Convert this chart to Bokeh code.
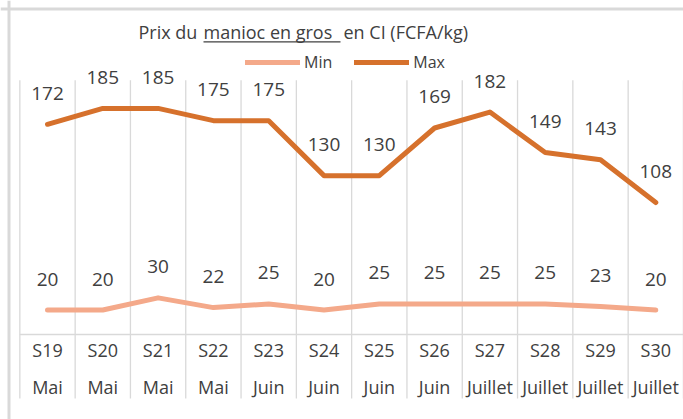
import numpy as np
from bokeh.plotting import figure
from bokeh.models import (Range1d, Label, Legend, LegendItem, BoxAnnotation,
                          Span, ColumnDataSource)
from bokeh.core.properties import value
from bokeh.embed import file_html
from bokeh.resources import INLINE

# ---------------- data ----------------
weeks = ["S19", "S20", "S21", "S22", "S23", "S24", "S25", "S26", "S27", "S28", "S29", "S30"]
months = ["Mai", "Mai", "Mai", "Mai", "Juin", "Juin", "Juin", "Juin",
          "Juillet", "Juillet", "Juillet", "Juillet"]
price_min = [20, 20, 30, 22, 25, 20, 25, 25, 25, 25, 23, 20]
price_max = [172, 185, 185, 175, 175, 130, 130, 169, 182, 149, 143, 108]

# ---------------- style ----------------
FONT = "Open Sans"
TXT = "#404040"
GRID = "#d9d9d9"
C_MIN = "#f4a98a"
C_MAX = "#d6712c"

W, H = 683, 419
PX_X = 55.3    # pixels per category
PX_Y = 1.222   # pixels per FCFA
X0 = -47 / PX_X
X1 = X0 + W / PX_X
Y1 = 334 / PX_Y
Y0 = Y1 - H / PX_Y
GRID_TOP, GRID_BOTTOM = 208, -52.4

idx = list(range(len(weeks)))

p = figure(width=W, height=H, output_backend="svg", toolbar_location=None,
           x_range=Range1d(X0, X1), y_range=Range1d(Y0, Y1),
           min_border=0, tools="")
p.xaxis.visible = False
p.yaxis.visible = False
p.xgrid.visible = False
p.ygrid.visible = False
p.outline_line_color = None
p.background_fill_color = "white"
p.border_fill_color = "white"

# category boundaries (vertical gridlines through plot and axis area)
bounds = np.arange(len(weeks) + 1) - 0.5
p.segment(x0=bounds, x1=bounds, y0=GRID_BOTTOM, y1=GRID_TOP,
          line_color=GRID, line_width=1.3)
# horizontal axis line at 0
p.segment(x0=[-0.5], x1=[len(weeks) - 0.5], y0=[0], y1=[0],
          line_color=GRID, line_width=1.5)

# outer chart border (left / top)
p.add_layout(Span(location=X0 + 8.5 / PX_X, dimension="height",
                  line_color=GRID, line_width=3))
p.add_layout(Span(location=Y1 - 8.5 / PX_Y, dimension="width",
                  line_color=GRID, line_width=3))

src = ColumnDataSource(dict(x=idx, mn=price_min, mx=price_max,
                            lmn=[str(v) for v in price_min],
                            lmx=[str(v) for v in price_max]))

r_min = p.line("x", "mn", source=src, line_color=C_MIN, line_width=5,
               line_cap="round", line_join="round")
r_max = p.line("x", "mx", source=src, line_color=C_MAX, line_width=5,
               line_cap="round", line_join="round")

# data labels
for col, ycol in (("lmn", "mn"), ("lmx", "mx")):
    p.text(x="x", y=ycol, text=col, source=src, text_align="center",
           text_baseline="middle", y_offset=-31, text_color=TXT,
           text_font=value(FONT), text_font_size="19px")

# category labels (two lines)
zeros = [0] * len(weeks)
src2 = ColumnDataSource(dict(x=idx, y=zeros, wk=weeks, mo=months))
p.text(x="x", y="y", text="wk", source=src2, text_align="center",
       text_baseline="middle", y_offset=15, text_color=TXT,
       text_font=value(FONT), text_font_size="18px")
p.text(x="x", y="y", text="mo", source=src2, text_align="center",
       text_baseline="middle", y_offset=52, text_color=TXT,
       text_font=value(FONT), text_font_size="18px")

# title (with partial underline)
TITLE_Y = H - 31  # screen y (from bottom) of title labels
t_kw = dict(x_units="screen", y_units="screen", text_color=TXT,
            text_font=FONT, text_font_size="18px", text_baseline="alphabetic")
p.add_layout(Label(x=138, y=TITLE_Y, text="Prix du", **t_kw))
p.add_layout(Label(x=203, y=TITLE_Y, text="manioc en gros", **t_kw))
p.add_layout(Label(x=343, y=TITLE_Y, text="en CI (FCFA/kg)", **t_kw))
p.add_layout(BoxAnnotation(left=203, right=340, bottom=H - 42.0,
                           top=H - 40.8, left_units="screen",
                           right_units="screen", bottom_units="screen",
                           top_units="screen", fill_color=TXT, fill_alpha=1,
                           line_color=None))

# legend
legend = Legend(items=[LegendItem(label="Min", renderers=[r_min]),
                       LegendItem(label="Max", renderers=[r_max])],
                orientation="horizontal", location=(245, H - 73),
                glyph_width=55, glyph_height=20, label_height=20,
                label_standoff=4, spacing=22, padding=0, margin=0,
                border_line_color=None, background_fill_alpha=0,
                label_text_font=FONT, label_text_font_size="16px",
                label_text_color=TXT)
p.add_layout(legend, "center")

open("out.html", "w").write(file_html(p, INLINE))
